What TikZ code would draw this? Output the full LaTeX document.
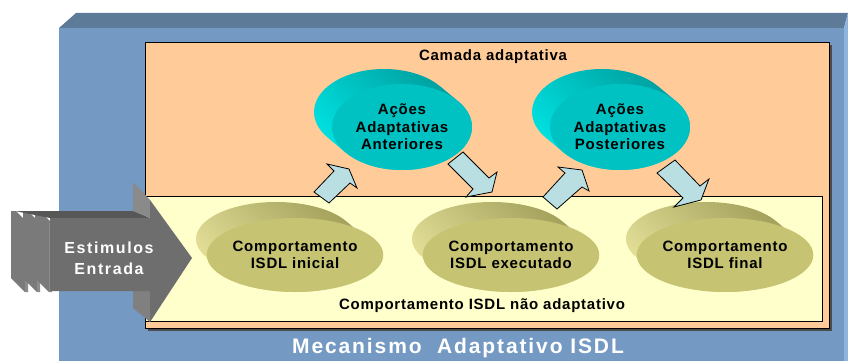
\documentclass[tikz,border=0pt]{standalone}
\usepackage{fontspec}
\setmainfont{Liberation Sans}
\usetikzlibrary{shapes.geometric}
\definecolor{frontblue}{HTML}{7499C2}
\definecolor{topblue}{HTML}{5E7A99}
\definecolor{sideblue}{HTML}{8DB3DE}
\definecolor{layerorange}{HTML}{FFCC99}
\definecolor{layeryellow}{HTML}{FFFFCC}
\definecolor{cyanfront}{HTML}{00C2C2}
\definecolor{cyantop}{HTML}{009A9A}
\definecolor{cyanleft}{HTML}{00E6E6}
\definecolor{olivefront}{HTML}{C6C372}
\definecolor{olivetop}{HTML}{9C9A56}
\definecolor{oliveleft}{HTML}{E8E49C}
\definecolor{arrowblue}{HTML}{BADFE3}

\begin{document}
\begin{tikzpicture}[x=1pt, y=-1pt,
    lbl/.style={font=\bfseries\fontsize{15}{17.5}\selectfont\addfontfeature{LetterSpace=5}, align=center, inner sep=0pt},
    olivenode/.style={ellipse, fill=olivefront, minimum width=160pt, minimum height=74pt, inner sep=0pt, lbl},
    cyannode/.style={ellipse, fill=cyanfront, minimum width=140pt, minimum height=86pt, inner sep=0pt, lbl},
    blockarrow/.style={fill=arrowblue, draw=black, line width=0.8pt, line join=miter}]
  \useasboundingbox (0,0) rectangle (848,361);

  \fill[frontblue] (59,28) rectangle (844,361);
  \fill[topblue] (59,28) -- (76,13) -- (848,13) -- (844,28) -- cycle;
  \fill[sideblue] (844,28) -- (848,13) -- (848,361) -- (844,361) -- cycle;

  \fill[black!70] (148,45) rectangle (832,331);
  \draw[fill=layerorange, line width=0.8pt] (145,42) rectangle (829,328);
  \draw[fill=layeryellow, line width=0.8pt] (145,196) rectangle (822,321);

  \node[lbl] (camada) at (493,57) {Camada adaptativa};
  \node[lbl] (naoadapt) at (482,306) {Comportamento ISDL não adaptativo};

  \foreach \cx/\cy in {402/127, 620/127}
    \shade[top color=cyantop, bottom color=cyanleft, shading angle=-45]
      ({\cx-18+70*cos(-36.4)},{\cy-15+43*sin(-36.4)})
      arc[start angle=-36.4, end angle=-216.4, x radius=70, y radius=43] -- ++(18,15)
      arc[start angle=143.6, end angle=-36.4, x radius=70, y radius=43] -- cycle;
  \foreach \cx/\cy in {295/255, 511/255, 725/255}
    \shade[top color=olivetop, bottom color=oliveleft, shading angle=-45]
      ({\cx-19+80*cos(-28.8)},{\cy-16+37*sin(-28.8)})
      arc[start angle=-28.8, end angle=-208.8, x radius=80, y radius=37] -- ++(19,16)
      arc[start angle=151.2, end angle=-28.8, x radius=80, y radius=37] -- cycle;

  \node[cyannode] (anteriores) at (402,127) {Ações\\Adaptativas\\Anteriores};
  \node[cyannode] (posteriores) at (620,127) {Ações\\Adaptativas\\Posteriores};
  \node[olivenode] (inicial) at (295,255) {Comportamento\\ISDL inicial};
  \node[olivenode] (executado) at (511,255) {Comportamento\\ISDL executado};
  \node[olivenode] (final) at (725,255) {Comportamento\\ISDL final};

  \draw[blockarrow] (327,164) -- (349,169) -- (357,188) -- (350,183) -- (329,203) -- (314,192) -- (334,171) -- cycle;
  \draw[blockarrow] (448,164) -- (463,152) -- (489,178) -- (497,172) -- (492,192) -- (466,197) -- (473,189) -- cycle;
  \draw[blockarrow] (558,167) -- (582,170) -- (589,191) -- (582,187) -- (557,209) -- (543,197) -- (565,173) -- cycle;
  \draw[blockarrow] (657,173) -- (675,160) -- (700,186) -- (709,179) -- (701,200) -- (674,207) -- (683,198) -- cycle;

  \foreach \x in {11,23,35} {
    \fill[black!52] (\x,211) -- (\x+5,211) -- (\x+17,223) -- (\x+17,292) -- (\x+14,292) -- (\x,278) -- cycle;
    \fill[black!45] (\x+14,223) rectangle (\x+17,292);
  }
  \fill[black!66] (15,211) -- (133,211) -- (150,218) -- (50,218) -- cycle;
  \fill[black!46] (133,182) -- (150,200) -- (150,218) -- (133,211) -- cycle;
  \fill[black!50] (133,291) -- (150,291) -- (150,322) -- (133,308) -- cycle;
  \fill[black!57] (50,218) -- (150,218) -- (150,200) -- (192,258) -- (150,322) -- (150,291) -- (50,291) -- cycle;
  \node[font=\bfseries\fontsize{16}{21}\selectfont\addfontfeature{LetterSpace=10}, align=center, text=white, inner sep=0pt] (estimulos) at (109,258) {Estimulos\\Entrada};

  \node[font=\bfseries\fontsize{21}{25}\selectfont\addfontfeature{LetterSpace=9}, text=white, inner sep=0pt] (mecanismo) at (458,348) {Mecanismo\ \ Adaptativo ISDL};
\end{tikzpicture}
\end{document}
